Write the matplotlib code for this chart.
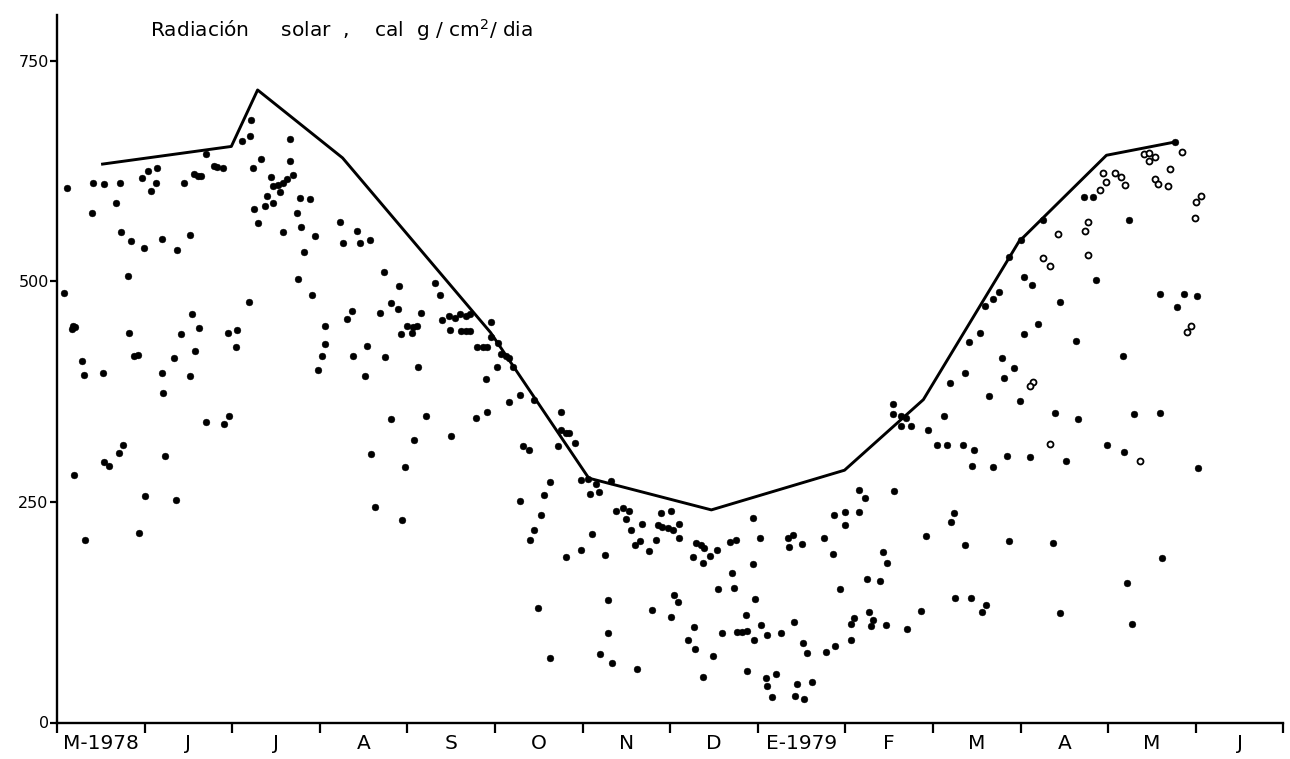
import matplotlib
matplotlib.use("Agg")
import matplotlib.pyplot as plt
import numpy as np

plt.rcParams["font.family"] = ["DejaVu Sans"]

# Meses desde el 1 de mayo de 1978 (eje x en meses transcurridos)
meses = ["M-1978", "J", "J", "A", "S", "O", "N", "D", "E-1979", "F", "M", "A", "M", "J"]
marcas_rad = [0, 250, 500, 750]

# Radiación solar diaria (cal g/cm2/dia), puntos llenos
mes_lleno = [
    0.11, 0.41, 0.54, 0.72, 0.40, 0.67, 0.97, 1.04, 1.14, 1.13, 1.07, 1.45, 1.56, 1.61, 1.64, 1.70, 1.79, 1.83, 1.90, 2.11,
    2.20, 2.22, 2.33, 2.24, 2.25, 2.37, 2.47, 2.40, 2.44, 2.47, 2.52, 2.58, 2.63, 2.69, 2.55, 2.66, 2.66, 2.29, 2.58, 2.77,
    2.89, 2.74, 2.79, 2.94, 2.82, 2.75, 2.91, 3.23, 3.26, 3.43, 3.46, 3.57, 0.73, 0.85, 0.99, 1.20, 1.37, 1.52, 0.81, 0.08,
    0.18, 0.21, 0.17, 0.82, 0.88, 0.93, 0.28, 0.31, 0.52, 1.20, 1.21, 1.33, 1.41, 1.54, 1.62, 1.58, 1.52, 1.95, 2.06, 2.04,
    2.19, 3.06, 3.06, 3.03, 2.98, 3.31, 3.37, 3.38, 3.54, 3.52,
    3.73, 3.90, 4.32, 4.37, 3.81, 3.89, 3.69, 4.16, 4.00, 4.06, 4.11, 4.05, 3.93, 4.40, 4.47, 4.54, 4.60, 4.67, 4.71, 4.49,
    4.61, 4.67, 4.72, 4.95, 4.95, 4.80, 4.86, 4.91, 5.03, 5.07, 5.13, 5.16, 5.02, 5.21, 4.90, 3.74, 4.12, 5.29,
    1.70, 1.91, 1.96, 0.75, 0.71, 0.54, 0.59, 1.23, 0.19, 1.01, 1.36, 0.94, 0.32, 3.58,
    5.45, 5.16, 4.91, 4.78, 4.21, 3.81, 4.07, 4.50, 3.97, 3.63, 3.94, 5.32, 5.39, 5.75, 5.75, 5.81, 5.85, 5.72, 5.91, 5.63,
    5.56, 5.28, 5.53, 5.45, 5.40, 5.98, 6.06, 6.15, 6.19, 6.08, 6.32, 6.38, 6.46, 6.53, 6.50, 6.55, 6.68, 6.65, 6.60, 6.84,
    6.76, 6.90, 7.01, 6.86, 6.91, 6.97, 7.03, 7.10, 7.10, 6.11, 5.98, 5.81, 6.25, 5.49, 6.29, 6.29, 5.63, 6.20, 6.34, 6.62,
    6.79, 7.01, 7.04, 7.09,
    7.30, 7.35, 7.39, 7.53, 7.46, 7.26, 7.38, 7.68, 7.75, 7.95, 8.02, 7.95, 7.71, 7.73, 7.55, 7.97, 7.27, 7.20, 7.28, 7.49,
    7.37, 7.59, 7.76, 7.82, 7.88, 7.86, 8.04, 7.96, 8.11, 8.26, 8.41, 7.88, 8.09, 8.11, 8.21, 8.16, 8.42, 8.53, 8.45, 8.62,
    8.52, 8.56, 8.78, 8.88, 9.06, 9.06, 9.10, 8.34, 8.40, 8.36, 8.51, 8.76, 8.86, 8.87, 9.00, 8.99, 9.16, 9.16, 9.22, 9.55,
    8.94, 9.25, 9.40, 9.43, 9.48, 9.27, 9.31, 9.29, 9.46, 9.70, 9.86, 9.54, 9.54, 9.64, 9.69, 9.64, 9.75, 9.94, 10.12, 10.64,
    10.05, 10.16, 10.34, 10.47, 10.45, 10.24, 10.20, 9.92, 10.36, 10.25, 10.43, 10.61, 10.56,
    10.99, 11.39, 11.65, 12.30, 12.59, 11.99, 12.18, 13.03, 10.69, 10.85, 11.11, 11.52, 10.87, 11.37, 12.61, 12.21, 11.45, 12.27,
    12.76, 11.72, 11.83, 12.24, 11.25, 11.01, 10.87, 11.04, 11.13, 11.86, 10.75, 10.68, 10.59, 11.45, 12.59, 12.87, 13.01, 12.79, 10.54, 10.41,
    11.04, 11.20, 11.63, 10.79, 10.92, 10.37, 10.19, 10.81, 12.17,
]
rad_lleno = [
    606, 611, 610, 612, 577, 589, 617, 625, 628, 612, 603, 612, 622, 620, 619, 644, 631, 630, 628, 659,
    665, 683, 639, 629, 582, 585, 589, 597, 618, 608, 609, 612, 616, 621, 601, 661, 637, 566, 556, 595,
    593, 577, 562, 552, 533, 503, 485, 567, 544, 557, 544, 547, 556, 546, 538, 548, 536, 553, 506, 487,
    450, 448, 446, 441, 416, 417, 410, 394, 396, 396, 374, 413, 440, 463, 447, 421, 393, 441, 445, 426,
    477, 450, 429, 416, 400, 457, 466, 415, 427, 393,
    511, 495, 498, 485, 476, 469, 464, 464, 449, 448, 449, 442, 440, 456, 461, 459, 463, 461, 463, 445,
    444, 444, 444, 454, 437, 426, 426, 426, 430, 418, 415, 413, 403, 403, 389, 414, 403, 371,
    341, 338, 348, 315, 305, 295, 291, 302, 280, 257, 252, 215, 207, 304,
    366, 363, 352, 345, 347, 344, 320, 325, 290, 244, 230, 313, 309, 352, 332, 328, 328, 313, 317, 273,
    258, 251, 235, 218, 207, 275, 276, 270, 261, 259, 274, 240, 243, 240, 231, 218, 225, 206, 201, 207,
    194, 238, 240, 224, 222, 220, 218, 225, 209, 214, 196, 188, 190, 130, 139, 102, 73, 78, 68, 61,
    127, 120, 145, 137,
    204, 201, 198, 196, 189, 188, 181, 205, 207, 232, 209, 180, 170, 153, 151, 140, 108, 93, 83, 75,
    52, 101, 103, 103, 104, 122, 110, 93, 99, 101, 114, 58, 51, 41, 55, 29, 30, 27, 44, 46,
    90, 79, 80, 87, 94, 112, 118, 209, 212, 199, 202, 209, 191, 235, 239, 224, 239, 263, 254, 262,
    151, 163, 160, 193, 181, 125, 116, 109, 110, 106, 126, 361, 350, 347, 345, 336, 336, 332, 348, 370,
    315, 315, 314, 309, 291, 238, 227, 211, 201, 141, 141, 133, 125,
    364, 351, 344, 350, 351, 315, 307, 289, 290, 302, 301, 296, 206, 203, 187, 158, 124, 112,
    658, 596, 596, 570, 570, 547, 528, 505, 496, 502, 488, 480, 472, 477, 486, 486, 483, 471, 441, 431,
    440, 452, 433, 413, 402, 396, 385, 391, 415,
]

# Días marcados con círculo abierto (abril-mayo 1979)
mes_abierto = [
    11.94, 11.97, 11.91, 12.08, 12.15, 12.19, 12.41, 12.47, 12.53, 12.47, 12.71, 12.84, 12.53, 12.57, 12.68, 13.06, 13.00, 12.99, 11.77, 11.74,
    11.43, 11.26, 11.33, 11.77, 12.95, 12.90, 11.14, 11.11, 11.33, 12.36,
]
rad_abierto = [
    623, 613, 604, 623, 618, 609, 645, 646, 641, 636, 627, 647, 616, 610, 608, 597, 590, 572, 567, 557,
    554, 527, 518, 530, 450, 443, 386, 381, 316, 296,
]

# Envolvente de los máximos mensuales
mes_envolvente = [0.52, 1.99, 2.29, 3.26, 4.95, 6.07, 7.47, 8.99, 9.89, 10.98, 11.98, 12.76]
rad_envolvente = [633, 653, 717, 640, 442, 277, 241, 286, 366, 545, 643, 658]

fig = plt.figure(figsize=(12.9, 7.59), dpi=100)
ax = fig.add_axes([57 / 1290, 1 - 722.5 / 759, 1226.4 / 1290, 707.5 / 759])
ax.set_xlim(0, 14)
ax.set_ylim(0, 802)

for lado in ("top", "right"):
    ax.spines[lado].set_visible(False)
for lado in ("left", "bottom"):
    ax.spines[lado].set_linewidth(1.7)
    ax.spines[lado].set_color("black")

ax.plot(mes_envolvente, rad_envolvente, color="black", lw=2.1, zorder=2)
ax.plot(mes_lleno, rad_lleno, "o", ms=4.9, mfc="black", mec="black", mew=0.3, ls="none", zorder=3)
ax.plot(mes_abierto, rad_abierto, "o", ms=4.3, mfc="white", mec="black", mew=1.3, ls="none", zorder=3)

ax.set_yticks(marcas_rad)
ax.set_yticklabels([str(v) for v in marcas_rad])
ax.tick_params(axis="y", direction="out", length=5, width=1.6, pad=1, labelsize=11.5)

ax.set_xticks(np.arange(len(meses) + 1))
ax.set_xticklabels([])
ax.set_xticks(np.arange(len(meses)) + 0.5, minor=True)
ax.set_xticklabels(meses, minor=True)
ax.tick_params(axis="x", which="major", direction="out", length=7, width=1.6)
ax.tick_params(axis="x", which="minor", length=0, pad=8, labelsize=14.5)

ax.text(0.076, 0.979, "Radiación     solar  ,    cal  g / cm$^2$/ dia", transform=ax.transAxes,
        ha="left", va="center", fontsize=14.5)

fig.savefig("out.png", dpi=100)
